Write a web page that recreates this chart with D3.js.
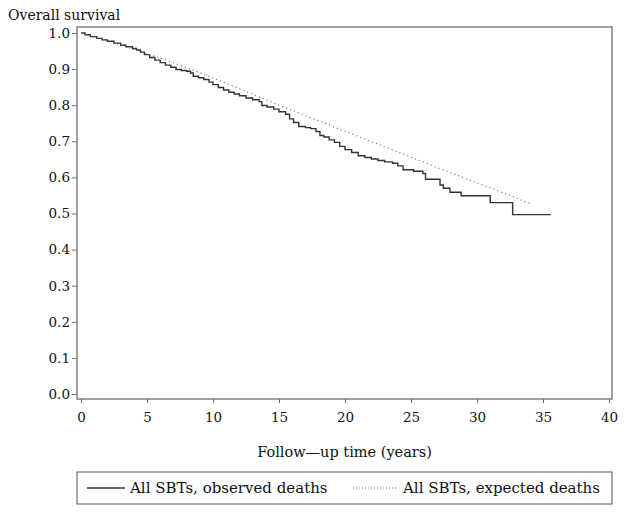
<!DOCTYPE html>
<html><head><meta charset="utf-8">
<script src="https://cdn.jsdelivr.net/npm/d3@7"></script>
<style>body{margin:0;background:#fff}svg{display:block}text{font-family:"DejaVu Serif",serif;fill:#111}</style>
</head><body><svg id="c" width="624" height="514"></svg>
<script>
const obsTime = [0,0.3,0.7,1.2,1.6,2.0,2.5,3.0,3.4,3.9,4.2,4.5,4.8,5.2,5.6,6.0,6.4,6.8,7.2,7.6,8.0,8.3,8.5,8.9,9.3,9.7,10.0,10.4,10.8,11.2,11.6,12.0,12.5,13.0,13.5,13.7,14.1,14.6,15.0,15.5,15.8,16.1,16.5,17.0,17.4,17.8,18.1,18.4,18.8,19.2,19.6,20.0,20.5,21.0,21.5,22.0,22.5,23.0,23.6,24.0,24.4,25.2,25.9,26.1,27.2,27.45,27.95,28.8,31.0,32.7,35.6];
const obsSurv = [1.000,0.995,0.990,0.985,0.981,0.977,0.972,0.966,0.962,0.957,0.953,0.947,0.940,0.932,0.925,0.918,0.911,0.905,0.899,0.896,0.894,0.889,0.880,0.876,0.871,0.864,0.857,0.849,0.842,0.836,0.831,0.826,0.820,0.815,0.810,0.799,0.795,0.789,0.782,0.775,0.762,0.752,0.741,0.738,0.735,0.727,0.716,0.712,0.704,0.697,0.686,0.677,0.669,0.660,0.655,0.651,0.647,0.643,0.639,0.632,0.621,0.617,0.611,0.595,0.579,0.570,0.559,0.549,0.530,0.497,0.497];
const expTime = [0,2.5,5,7.5,10,12.5,15,17.5,20,22.5,25,27.5,30,32.5,34];
const expSurv = [1.0,0.972,0.943,0.911,0.876,0.838,0.800,0.764,0.728,0.692,0.656,0.620,0.585,0.550,0.528];
const xTicks = [0,5,10,15,20,25,30,35,40];
const yTicks = [0,0.1,0.2,0.3,0.4,0.5,0.6,0.7,0.8,0.9,1.0];
const seriesNames = ["All SBTs, observed deaths","All SBTs, expected deaths"];
const yTitle = "Overall survival", xTitle = "Follow\u2014up time (years)";

const svg = d3.select("#c");
const x = d3.scaleLinear().domain([0,40]).range([81,609]);
const y = d3.scaleLinear().domain([0,1]).range([394,33]);
const frame = {l:77,r:612,t:27,b:399};
const axisCol = "#6e6e6e";

svg.append("rect").attr("x",frame.l).attr("y",frame.t).attr("width",frame.r-frame.l).attr("height",frame.b-frame.t)
  .attr("fill","none").attr("stroke",axisCol).attr("stroke-width",1.3);

// y axis
const ya = svg.append("g").attr("transform",`translate(${frame.l},0)`)
  .call(d3.axisLeft(y).tickValues(yTicks).tickFormat(d3.format(".1f")).tickSize(5).tickPadding(2));
ya.select(".domain").remove();
ya.selectAll("line").attr("stroke",axisCol);
ya.selectAll("text").style("font-size","13.5px").style("font-family","DejaVu Serif").attr("fill","#111");

// x axis
const xa = svg.append("g").attr("transform",`translate(0,${frame.b})`)
  .call(d3.axisBottom(x).tickValues(xTicks).tickSize(4).tickPadding(9));
xa.select(".domain").remove();
xa.selectAll("line").attr("stroke",axisCol);
xa.selectAll("text").style("font-size","13.5px").style("font-family","DejaVu Serif").attr("fill","#111");

svg.append("text").attr("x",8).attr("y",20).style("font-size","14px").text(yTitle);
svg.append("text").attr("x",(frame.l+frame.r)/2).attr("y",457).attr("text-anchor","middle").style("font-size","14.5px").text(xTitle);

const line = d3.line().curve(d3.curveStepAfter).x(d=>x(d[0])).y(d=>y(d[1]));
const obs = obsTime.map((t,i)=>[t,obsSurv[i]]);
svg.append("path").datum(obs).attr("d",line).attr("fill","none").attr("stroke","#333").attr("stroke-width",1.4);

const eline = d3.line().x(d=>x(d[0])).y(d=>y(d[1]));
const exp = expTime.map((t,i)=>[t,expSurv[i]]);
svg.append("path").datum(exp).attr("d",eline).attr("fill","none").attr("stroke","#777").attr("stroke-width",1.1).attr("stroke-dasharray","1.2,3");

// legend
const lg = svg.append("g");
lg.append("rect").attr("x",77).attr("y",472).attr("width",535).attr("height",32).attr("fill","none").attr("stroke",axisCol).attr("stroke-width",1.2);
lg.append("line").attr("x1",87).attr("x2",125).attr("y1",488).attr("y2",488).attr("stroke","#333").attr("stroke-width",1.3);
lg.append("text").attr("x",130).attr("y",493).style("font-size","15px").text(seriesNames[0]);
lg.append("line").attr("x1",353).attr("x2",398).attr("y1",488).attr("y2",488).attr("stroke","#777").attr("stroke-width",1).attr("stroke-dasharray","1,2");
lg.append("text").attr("x",403).attr("y",493).style("font-size","15px").text(seriesNames[1]);
</script></body></html>
